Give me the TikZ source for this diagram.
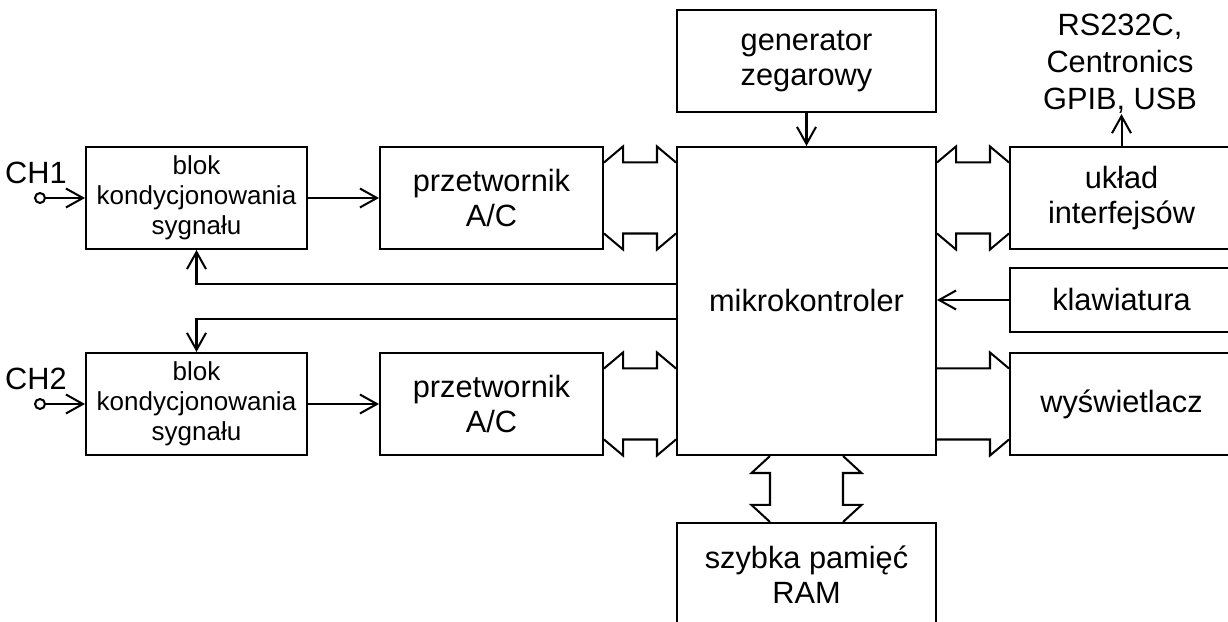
\documentclass[tikz,border=0pt]{standalone}
\usepackage{fontspec}
\setmainfont{Liberation Sans}
\usetikzlibrary{calc,arrows.meta}

% bus arrow with two heads, #3 = side of the heads (1 up, -1 down)
\newcommand{\hbus}[3]{%
  \draw (#1) -- ($(#1)+(.38,#3*.32)$) -- ($(#1)+(.38,0)$) -- ($(#2)+(-.38,0)$) -- ($(#2)+(-.38,#3*.32)$) -- (#2);}
% vertical bus arrow, #3 = side of the heads (1 right, -1 left)
\newcommand{\vbus}[3]{%
  \draw (#1) -- ($(#1)+(#3*.37,-.34)$) -- ($(#1)+(0,-.34)$) -- ($(#2)+(0,.34)$) -- ($(#2)+(#3*.37,.34)$) -- (#2);}

\begin{document}
\begin{tikzpicture}
		[line width=1.15pt,
		%Styles
		box/.style={draw,inner sep=0pt,align=center,font=\fontsize{17.5}{20}\selectfont},
		small box/.style={box,font=\fontsize{14.8}{17}\selectfont},
		label text/.style={inner sep=0pt,align=center,font=\fontsize{17.5}{21}\selectfont},
		arr/.style={-{Straight Barb[length=.34cm,width=.38cm]}},
		pin/.style={circle,draw,inner sep=0pt,minimum size=.2cm}
		]
		
		%Frame
		\useasboundingbox (0,0) rectangle (24.56,12.44);
		\clip (0,0) rectangle (24.56,12.44);
		
		%Blocks
		\node[small box,minimum width=4.42cm,minimum height=2.04cm] (blok1) at (3.93,8.48) {blok\\kondycjonowania\\sygnału};
		\node[small box,minimum width=4.42cm,minimum height=2.04cm] (blok2) at (3.93,4.36) {blok\\kondycjonowania\\sygnału};
		\node[box,minimum width=4.46cm,minimum height=2.04cm] (ac1) at (9.83,8.48) {przetwornik\\A/C};
		\node[box,minimum width=4.46cm,minimum height=2.04cm] (ac2) at (9.83,4.36) {przetwornik\\A/C};
		\node[box,minimum width=5.18cm,minimum height=6.16cm] (mcu) at (16.13,6.42) {mikrokontroler};
		\node[box,minimum width=5.18cm,minimum height=2.04cm] (gen) at (16.13,11.22) {generator\\zegarowy};
		\node[box,minimum width=5.18cm,minimum height=2.08cm] (ram) at (16.13,0.94) {szybka pamięć\\RAM};
		\node[box,minimum width=4.46cm,minimum height=2.04cm] (intf) at (22.43,8.48) {układ\\interfejsów};
		\node[box,minimum width=4.46cm,minimum height=1.28cm] (kbd) at (22.43,6.44) {klawiatura};
		\node[box,minimum width=4.46cm,minimum height=2.04cm] (disp) at (22.43,4.36) {wyświetlacz};
		
		%Inputs
		\node[pin] (in1) at (0.8,8.48) {};
		\node[pin] (in2) at (0.8,4.36) {};
		\node[label text] (ch1) at (0.72,8.99) {CH1};
		\node[label text] (ch2) at (0.72,4.87) {CH2};
		\node[label text] (rs) at (22.4,11.17) {RS232C,\\Centronics\\GPIB, USB};
		
		%Signal lines
		\draw[arr] (in1.east) -- (blok1.west);
		\draw[arr] (in2.east) -- (blok2.west);
		\draw[arr] (blok1.east) -- (ac1.west);
		\draw[arr] (blok2.east) -- (ac2.west);
		\draw[arr] (gen.south) -- (mcu.north);
		\draw[arr] (intf.north) -- (intf.north |- rs.south);
		\draw[arr] (kbd.west) -- (kbd.west -| mcu.east);
		\draw[arr] ($(mcu.west)+(0,.34)$) -| (blok1.south);
		\draw[arr] ($(mcu.west)+(0,-.36)$) -| (blok2.north);
		
		%Buses
		\foreach \n in {ac1,ac2}{
			\coordinate (l1) at ($(\n.north east)+(0,-.33)$);
			\coordinate (l2) at ($(\n.south east)+(0,.33)$);
			\coordinate (r1) at (mcu.west |- l1);
			\coordinate (r2) at (mcu.west |- l2);
			\hbus{l1}{r1}{1}
			\hbus{l2}{r2}{-1}
		}
		
		\coordinate (r1) at ($(intf.north west)+(0,-.33)$);
		\coordinate (r2) at ($(intf.south west)+(0,.33)$);
		\coordinate (l1) at (mcu.east |- r1);
		\coordinate (l2) at (mcu.east |- r2);
		\hbus{l1}{r1}{1}
		\hbus{l2}{r2}{-1}
		
		\coordinate (d1) at ($(disp.north west)+(0,-.33)$);
		\coordinate (d2) at ($(disp.south west)+(0,.33)$);
		\draw (mcu.east |- d1) -- ($(d1)+(-.38,0)$) -- ($(d1)+(-.38,.32)$) -- (d1);
		\draw (mcu.east |- d2) -- ($(d2)+(-.38,0)$) -- ($(d2)+(-.38,-.32)$) -- (d2);
		
		\coordinate (t1) at ($(mcu.south)+(-.73,0)$);
		\coordinate (t2) at ($(mcu.south)+(.73,0)$);
		\coordinate (b1) at (t1 |- ram.north);
		\coordinate (b2) at (t2 |- ram.north);
		\vbus{t1}{b1}{-1}
		\vbus{t2}{b2}{1}
	\end{tikzpicture}
\end{document}
